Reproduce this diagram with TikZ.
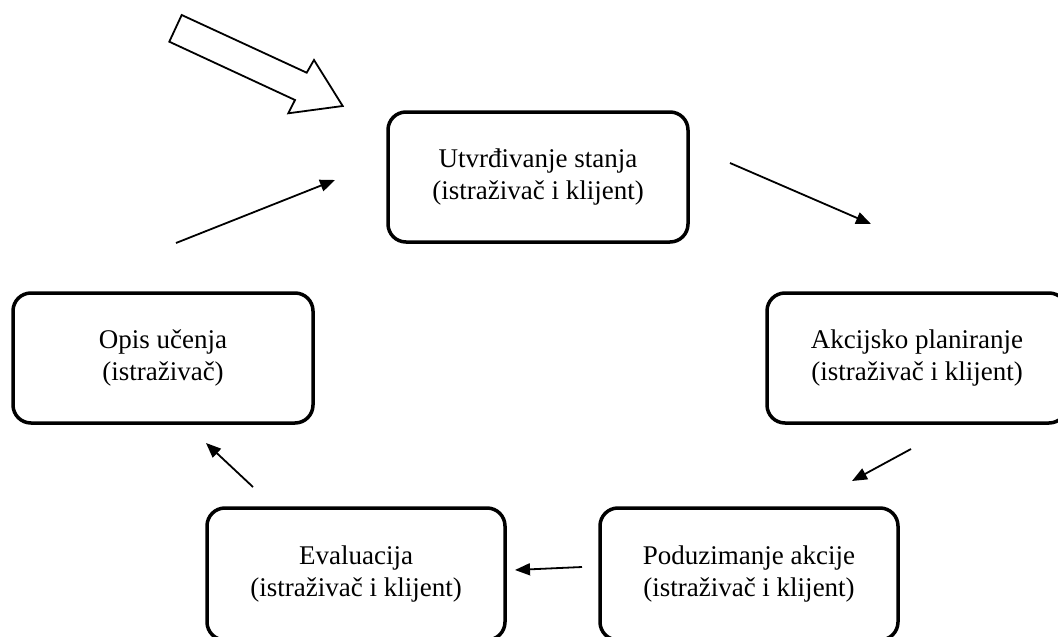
\documentclass[tikz,border=0pt]{standalone}
\usepackage{fontspec}
\setmainfont{Liberation Serif}
\usetikzlibrary{arrows.meta}
\begin{document}
\begin{tikzpicture}[x=1pt,y=-1pt,
  box/.style={draw=black, line width=3.5pt, rounded corners=18pt,
    minimum width=300pt, minimum height=130pt, inner sep=0pt,
    align=center, font=\fontsize{27}{32}\selectfont},
  flow/.style={line width=1.8pt, -{Triangle[length=15pt,width=12pt]}},
  hollow/.style={draw=black, line width=1.8pt, fill=white, line join=miter}]
\useasboundingbox (0,0) rectangle (1058,637);
\clip (0,0) rectangle (1058,637);
\fill[white] (0,0) rectangle (1058,637);

\node[box] (top) at (538,177) {Utvrđivanje stanja\\(istraživač i klijent)};
\node[box] (opis) at (163,358) {Opis učenja\\(istraživač)};
\node[box] (akc) at (917,358) {Akcijsko planiranje\\(istraživač i klijent)};
\node[box, minimum width=298pt, minimum height=132pt] (evl) at (356,574) {Evaluacija\\(istraživač i klijent)};
\node[box, minimum width=298pt, minimum height=132pt] (pod) at (749,574) {Poduzimanje akcije\\(istraživač i klijent)};

% hollow entry arrow
\draw[hollow] (181.7,15) -- (306.7,72.7) -- (314,60) -- (342.7,106)
  -- (288.3,113.3) -- (295,100) -- (169.3,41.7) -- cycle;

% cycle arrows
\coordinate (a1s) at (730,163);   \coordinate (a1e) at (871,224);
\coordinate (a2s) at (911,449);   \coordinate (a2e) at (852,481);
\coordinate (a3s) at (582,567);   \coordinate (a3e) at (515,570);
\coordinate (a4s) at (253,487);   \coordinate (a4e) at (206,443);
\coordinate (a5s) at (176,243);   \coordinate (a5e) at (335,180);
\draw[flow] (a1s) -- (a1e);
\draw[flow] (a2s) -- (a2e);
\draw[flow] (a3s) -- (a3e);
\draw[flow] (a4s) -- (a4e);
\draw[flow] (a5s) -- (a5e);
\end{tikzpicture}
\end{document}
